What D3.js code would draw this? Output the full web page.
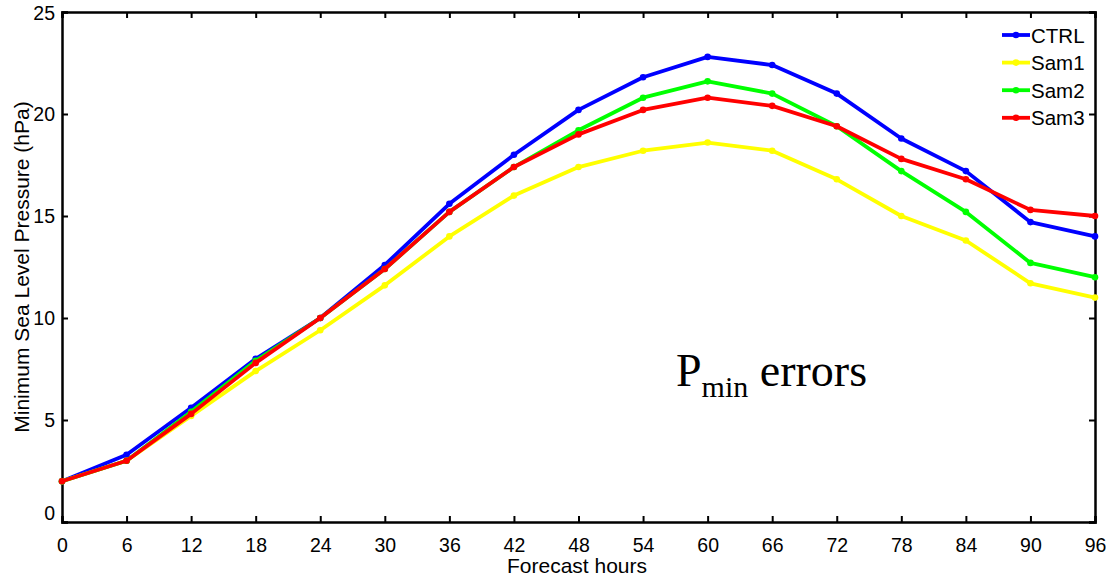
<!DOCTYPE html>
<html>
<head>
<meta charset="utf-8">
<script src="https://cdn.jsdelivr.net/npm/d3@7"></script>
<style>
  body { margin: 0; background: #fff; }
  svg { display: block; font-family: "Liberation Sans", Arial, sans-serif; }
</style>
</head>
<body>
<svg id="chart"></svg>
<script>
// forecast hours
var hours = [0, 6, 12, 18, 24, 30, 36, 42, 48, 54, 60, 66, 72, 78, 84, 90, 96];
var yTicks = [0, 5, 10, 15, 20, 25];

var ctrl = [2.0, 3.3, 5.6, 8.0, 10.0, 12.6, 15.6, 18.0, 20.2, 21.8, 22.8, 22.4, 21.0, 18.8, 17.2, 14.7, 14.0];
var sam1 = [2.0, 3.0, 5.2, 7.4, 9.4, 11.6, 14.0, 16.0, 17.4, 18.2, 18.6, 18.2, 16.8, 15.0, 13.8, 11.7, 11.0];
var sam2 = [2.0, 3.0, 5.4, 7.9, 10.0, 12.4, 15.2, 17.4, 19.2, 20.8, 21.6, 21.0, 19.4, 17.2, 15.2, 12.7, 12.0];
var sam3 = [2.0, 3.0, 5.3, 7.8, 10.0, 12.4, 15.2, 17.4, 19.0, 20.2, 20.8, 20.4, 19.4, 17.8, 16.8, 15.3, 15.0];

var seriesNames = ["CTRL", "Sam1", "Sam2", "Sam3"];
var seriesColors = ["#0000ff", "#ffff00", "#00ff00", "#ff0000"];

var series = [ctrl, sam1, sam2, sam3].map(function(vals, i) {
    return {
        name: seriesNames[i],
        color: seriesColors[i],
        values: vals.map(function(v, j) { return { h: hours[j], v: v }; })
    };
});

var svgWidth = 1106, svgHeight = 579;
var margin = { top: 12, right: 11, bottom: 57, left: 62 };
var width = svgWidth - margin.left - margin.right;
var height = svgHeight - margin.top - margin.bottom;

var svg = d3.select("#chart")
    .attr("width", svgWidth)
    .attr("height", svgHeight);

var g = svg.append("g")
    .attr("transform", "translate(" + margin.left + "," + margin.top + ")");

var x = d3.scaleLinear().domain([0, 96]).range([0, width]);
var y = d3.scaleLinear().domain([0, 25]).range([height, 0]);

// axes, ticks pointing inward like matlab
var xAxis = g.append("g")
    .attr("transform", "translate(0," + height + ")")
    .call(d3.axisBottom(x).tickValues(hours).tickSize(-6).tickPadding(13).tickFormat(d3.format("d")));
var yAxis = g.append("g")
    .call(d3.axisLeft(y).tickValues(yTicks).tickSize(-6).tickPadding(13).tickFormat(d3.format("d")));
var xTop = g.append("g")
    .call(d3.axisTop(x).tickValues(hours).tickSize(-6).tickFormat(""));
var yRight = g.append("g")
    .attr("transform", "translate(" + width + ",0)")
    .call(d3.axisRight(y).tickValues(yTicks).tickSize(-6).tickFormat(""));

[xAxis, yAxis, xTop, yRight].forEach(function(a) {
    a.select(".domain").attr("stroke", "#000").attr("stroke-width", 2.5);
    a.selectAll(".tick line").attr("stroke", "#000").attr("stroke-width", 2);
    a.selectAll(".tick text")
        .attr("fill", "#000")
        .style("font-size", "19.5px");
});
yAxis.selectAll(".tick text").attr("dx", 6);
// matlab nudges the 0 label up and the 25 label down a bit
yAxis.selectAll(".tick text").attr("dy", function(d) { return d === 0 ? "-0.15em" : (d === 25 ? "0.4em" : "0.34em"); });
xAxis.selectAll(".tick text").attr("dy", "0.85em");

// axis titles
svg.append("text")
    .attr("x", 577)
    .attr("y", 573)
    .attr("text-anchor", "middle")
    .style("font-size", "21px")
    .text("Forecast hours");

svg.append("text")
    .attr("transform", "translate(29," + 267 + ") rotate(-90)")
    .attr("text-anchor", "middle")
    .style("font-size", "21px")
    .text("Minimum Sea Level Pressure (hPa)");

var line = d3.line()
    .x(function(d) { return x(d.h); })
    .y(function(d) { return y(d.v); });

series.forEach(function(s) {
    g.append("path")
        .datum(s.values)
        .attr("fill", "none")
        .attr("stroke", s.color)
        .attr("stroke-width", 3.8)
        .attr("stroke-linejoin", "round")
        .attr("d", line);
    g.selectAll(null)
        .data(s.values)
        .enter().append("circle")
        .attr("cx", function(d) { return x(d.h); })
        .attr("cy", function(d) { return y(d.v); })
        .attr("r", 3.3)
        .attr("fill", s.color);
});

// legend
var legend = svg.append("g").attr("transform", "translate(1002,35)");
series.forEach(function(s, i) {
    var row = legend.append("g").attr("transform", "translate(0," + (i * 27.6) + ")");
    row.append("line")
        .attr("x1", 0).attr("x2", 28)
        .attr("stroke", s.color).attr("stroke-width", 3.8);
    row.append("circle").attr("cx", 14).attr("r", 3.3).attr("fill", s.color);
    row.append("text")
        .attr("x", 29).attr("y", 7.5)
        .style("font-size", "20.5px")
        .text(s.name);
});

// annotation
var note = svg.append("text")
    .attr("x", 676)
    .attr("y", 386)
    .style("font-family", "'Liberation Serif', 'Times New Roman', serif")
    .style("font-size", "46px");
note.append("tspan").text("P");
note.append("tspan").attr("dy", 11).style("font-size", "30px").text("min");
note.append("tspan").attr("dy", -11).text(" errors");
</script>
</body>
</html>
